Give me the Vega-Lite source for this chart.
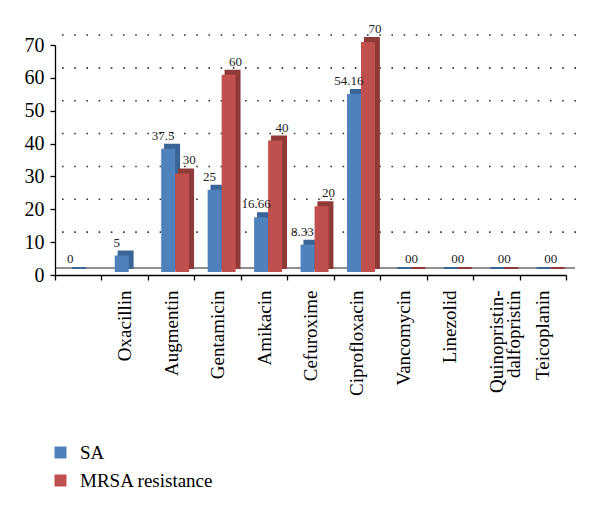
{
  "$schema": "https://vega.github.io/schema/vega-lite/v6.json",
  "width": 511,
  "height": 230,
  "autosize": {"type": "none"},
  "padding": {"left": 55, "top": 45, "right": 34, "bottom": 240},
  "background": "white",
  "config": {
    "view": {"stroke": null},
    "axis": {"labelFont": "Liberation Serif", "labelColor": "black", "tickColor": "black", "domainColor": "black", "tickWidth": 1.3, "domainWidth": 1.3, "tickSize": 5, "grid": false, "title": null},
    "axisY": {"labelFont": "Liberation Serif", "labelFontSize": 20, "labelPadding": 6, "labelOverlap": false},
    "axisX": {"labelFont": "Liberation Serif", "labelFontSize": 19, "labelPadding": 10},
    "legend": {"labelFont": "Liberation Serif", "labelFontSize": 19, "labelColor": "black", "symbolType": "square", "symbolSize": 144, "symbolStrokeWidth": 0, "labelOffset": 10, "rowPadding": 8, "padding": 0},
    "style": {"guide-label": {"font": "Liberation Serif"}}
  },
  "datasets": {
    "bars": [
      {"drug": "", "series": "SA", "value": 0, "label": "0"},
      {"drug": "Oxacillin", "series": "SA", "value": 5, "label": "5"},
      {"drug": "Augmentin", "series": "SA", "value": 37.5, "label": "37.5"},
      {"drug": "Augmentin", "series": "MRSA resistance", "value": 30, "label": "30"},
      {"drug": "Gentamicin", "series": "SA", "value": 25, "label": "25"},
      {"drug": "Gentamicin", "series": "MRSA resistance", "value": 60, "label": "60"},
      {"drug": "Amikacin", "series": "SA", "value": 16.66, "label": "16.66"},
      {"drug": "Amikacin", "series": "MRSA resistance", "value": 40, "label": "40"},
      {"drug": "Cefuroxime", "series": "SA", "value": 8.33, "label": "8.33"},
      {"drug": "Cefuroxime", "series": "MRSA resistance", "value": 20, "label": "20"},
      {"drug": "Ciprofloxacin", "series": "SA", "value": 54.16, "label": "54.16"},
      {"drug": "Ciprofloxacin", "series": "MRSA resistance", "value": 70, "label": "70"},
      {"drug": "Vancomycin", "series": "SA", "value": 0, "label": null},
      {"drug": "Vancomycin", "series": "MRSA resistance", "value": 0, "label": null},
      {"drug": "Linezolid", "series": "SA", "value": 0, "label": null},
      {"drug": "Linezolid", "series": "MRSA resistance", "value": 0, "label": null},
      {"drug": "Quinopristin-dalfopristin", "series": "SA", "value": 0, "label": null},
      {"drug": "Quinopristin-dalfopristin", "series": "MRSA resistance", "value": 0, "label": null},
      {"drug": "Teicoplanin", "series": "SA", "value": 0, "label": null},
      {"drug": "Teicoplanin", "series": "MRSA resistance", "value": 0, "label": null}
    ],
    "pairs": [
      {"drug": "Vancomycin", "value": 0, "label": "00"},
      {"drug": "Linezolid", "value": 0, "label": "00"},
      {"drug": "Quinopristin-dalfopristin", "value": 0, "label": "00"},
      {"drug": "Teicoplanin", "value": 0, "label": "00"}
    ],
    "grid": [
      {"value": 10}, {"value": 20}, {"value": 30}, {"value": 40},
      {"value": 50}, {"value": 60}, {"value": 70}
    ],
    "floor": [{"value": 0}]
  },
  "resolve": {"scale": {"xOffset": "independent"}},
  "encoding": {
    "y": {"field": "value", "type": "quantitative", "scale": {"domain": [0, 70], "nice": false},
      "axis": {"values": [0, 10, 20, 30, 40, 50, 60, 70], "tickCount": 8, "labelFontSize": 20, "labelFont": "Liberation Serif", "labelOverlap": false}}
  },
  "layer": [
    {
      "data": {"name": "grid"},
      "mark": {"type": "rule", "color": "#333333", "strokeWidth": 1.6, "strokeDash": [1.6, 10.6], "xOffset": 10, "x2Offset": 12, "yOffset": -10}
    },
    {
      "data": {"name": "floor"},
      "mark": {"type": "rule", "color": "#222222", "strokeWidth": 1.2, "xOffset": 9, "x2Offset": 10, "yOffset": -7}
    },
    {
      "data": {"name": "bars"},
      "transform": [{"filter": "datum.series == 'SA'"}],
      "mark": {"type": "bar", "yOffset": -7, "y2Offset": -7, "strokeWidth": 2, "color": "#3A6597", "stroke": "#3A6597"},
      "encoding": {
        "x": {
          "field": "drug", "type": "nominal",
          "scale": {"domain": ["", "Oxacillin", "Augmentin", "Gentamicin", "Amikacin", "Cefuroxime", "Ciprofloxacin", "Vancomycin", "Linezolid", "Quinopristin-dalfopristin", "Teicoplanin"], "paddingInner": 0, "paddingOuter": 0},
          "axis": {
            "labelAngle": -90, "tickBand": "extent",
            "labelLineHeight": 17, "labelLimit": 200,
            "labelExpr": "datum.label == 'Quinopristin-dalfopristin' ? ['Quinopristin-', 'dalfopristin'] : datum.label"
          }
        },
        "xOffset": {"field": "series", "type": "nominal", "scale": {"domain": ["SA", "MRSA resistance"], "paddingInner": 0, "paddingOuter": 0.66, "align": 0.93}}
      }
    },
    {
      "data": {"name": "bars"},
      "transform": [{"filter": "datum.series == 'MRSA resistance'"}],
      "mark": {"type": "bar", "yOffset": -7, "y2Offset": -7, "strokeWidth": 2, "color": "#8F3A37", "stroke": "#8F3A37"},
      "encoding": {
        "x": {"field": "drug", "type": "nominal"},
        "xOffset": {"field": "series", "type": "nominal", "scale": {"domain": ["SA", "MRSA resistance"], "paddingInner": 0, "paddingOuter": 0.66, "align": 0.93}}
      }
    },
    {
      "data": {"name": "bars"},
      "mark": {"type": "bar", "yOffset": -3, "y2Offset": -3},
      "encoding": {
        "x": {"field": "drug", "type": "nominal"},
        "xOffset": {"field": "series", "type": "nominal", "scale": {"domain": ["SA", "MRSA resistance"], "paddingInner": 0, "paddingOuter": 0.66, "align": 0.72}},
        "color": {
          "field": "series", "type": "nominal",
          "scale": {"domain": ["SA", "MRSA resistance"], "range": ["#4F81BD", "#C0504D"]},
          "legend": {
            "title": null, "orient": "none", "legendX": -4, "legendY": 398,
            "labelFont": "Liberation Serif", "labelFontSize": 19,
            "encode": {
              "symbols": {"update": {"fill": {"signal": "datum.value == 'SA' ? '#4A7EBB' : '#943634'"}}},
              "labels": {"update": {"font": {"value": "Liberation Serif"}}}
            }
          }
        }
      }
    },
    {
      "data": {"name": "bars"},
      "transform": [{"filter": "datum.series == 'SA' && datum.label != null"}],
      "mark": {"type": "text", "fontSize": 13, "font": "Liberation Serif", "color": "#222222", "baseline": "alphabetic", "dx": 2, "dy": -12},
      "encoding": {
        "x": {"field": "drug", "type": "nominal"},
        "xOffset": {"field": "series", "type": "nominal", "scale": {"domain": ["SA", "MRSA resistance"], "paddingInner": 0, "paddingOuter": 0.66}},
        "text": {"field": "label"}
      }
    },
    {
      "data": {"name": "bars"},
      "transform": [{"filter": "datum.series == 'MRSA resistance' && datum.label != null"}],
      "mark": {"type": "text", "fontSize": 13, "font": "Liberation Serif", "color": "#222222", "baseline": "alphabetic", "dx": 8, "dy": -12},
      "encoding": {
        "x": {"field": "drug", "type": "nominal"},
        "xOffset": {"field": "series", "type": "nominal", "scale": {"domain": ["SA", "MRSA resistance"], "paddingInner": 0, "paddingOuter": 0.66}},
        "text": {"field": "label"}
      }
    },
    {
      "data": {"name": "pairs"},
      "mark": {"type": "text", "fontSize": 13, "font": "Liberation Serif", "color": "#222222", "baseline": "alphabetic", "dx": 8, "dy": -12},
      "encoding": {
        "x": {"field": "drug", "type": "nominal"},
        "text": {"field": "label"}
      }
    }
  ]
}
